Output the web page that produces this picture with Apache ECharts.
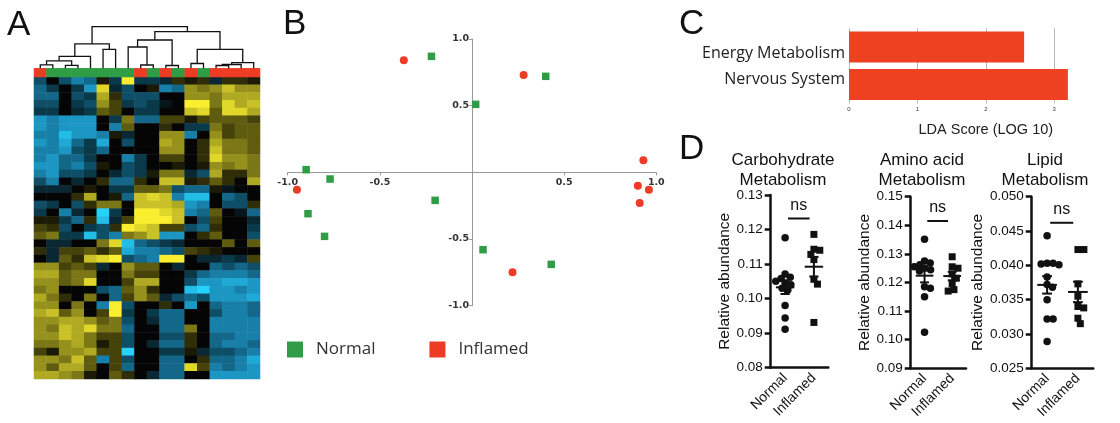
<!DOCTYPE html>
<html>
<head>
<meta charset="utf-8" />
<script src="https://cdn.jsdelivr.net/npm/echarts@6/dist/echarts.min.js"></script>
<style>
  html, body { margin: 0; padding: 0; background: #fff; }
  #main { width: 1120px; height: 423px; }
</style>
</head>
<body>
<div id="main"></div>
<script>
// ---- A: heatmap (rows top to bottom, 18 samples left to right) ----
const heatRows = [
  [-0.4,0,-0.4,-0.6,-0.5,0.1,-0.3,1,-0.3,-0.3,-0.2,0.2,0.1,0.2,-0.2,0.2,0.2,0.1],
  [-0.5,-0.3,0,-0.3,-0.7,0.9,-0.2,-0.4,0,0.1,-0.6,-0.5,0.6,0.5,0.6,0.8,0.6,0.6],
  [-0.5,-0.5,0,-0.4,-0.3,0.7,0.2,-0.4,-0.4,-0.4,0,0,0.6,0.6,0.5,0.7,0.7,0.7],
  [-0.4,-0.4,0,-0.3,-0.4,0.6,0.3,-0.3,-0.4,-0.3,-0.1,0,1,1,0.5,0.9,0.7,0.8],
  [-0.3,-0.3,0,-0.2,-0.3,0.4,0.3,0,-0.3,-0.3,0,0,0.8,0.9,0.4,0.9,0.9,0.7],
  [-0.7,-0.6,-0.7,-0.7,-0.7,0,-0.3,0.5,-0.5,-0.5,0.3,0.3,0.1,0.3,0.4,0.4,0.4,0.3],
  [-0.7,-0.6,-0.7,-0.7,-0.7,0,-0.6,0.4,0,0,0.2,0,-0.3,-0.3,0.5,0.3,0.4,0.4],
  [-0.6,-0.6,-0.9,-0.7,-0.7,-0.6,0.1,-0.2,0,0,0.6,0.6,-0.6,0,0.6,0.3,0.4,0.4],
  [-0.7,-0.6,-0.8,-0.5,-0.3,-0.8,0,-0.4,0,0,0.7,0.6,0,0.2,0.7,0.5,0.5,0.4],
  [-0.6,-0.6,-0.7,-0.4,-0.3,-0.5,0,0,0,0,0.6,0.6,0,0.2,0.8,0.5,0.5,0.4],
  [-0.6,-0.7,-0.5,-0.5,-0.3,0,0,-0.6,-0.3,0,0.3,0.3,0,0.2,0.9,0.6,0.6,0.5],
  [-0.7,-0.7,-0.5,-0.6,-0.4,0.1,0,-0.4,-0.3,0,0,0.1,0,0.1,0.6,0.5,0.6,0.5],
  [-0.6,-0.7,-0.4,-0.4,-0.3,0,-0.2,-0.4,-0.3,0.1,0.5,0.5,-0.2,-0.4,0.7,0.2,0.2,0.5],
  [-0.4,-0.6,0,-0.2,0,0.2,-0.5,-0.5,0.2,0,0.8,0.8,0.1,0.2,0.4,0.2,0,0.7],
  [-0.2,-0.2,-0.2,0,0.1,0,-0.3,-0.3,0.4,0.4,0.5,-0.4,-0.5,-0.5,0.1,-0.1,0,0],
  [0,0,0,0.2,0.7,0,0.1,-0.5,0.8,0.9,0.8,-0.6,-0.9,-0.9,0,-0.5,-0.4,0],
  [-0.4,-0.3,0,-0.4,0.2,0.5,0.5,0,0.8,0.8,0.8,0.7,-0.7,-0.6,0,-0.4,-0.4,0.2],
  [-0.3,0,-0.6,-0.2,0,-1,-0.3,0,1,1,0.9,0.8,-0.6,-0.5,0.4,0,-0.1,-0.5],
  [0.1,0.1,-0.3,-0.5,0.2,-0.9,-0.2,0.3,1,1,1,0.8,0,-0.4,0.3,0,0,-0.2],
  [0.3,0.2,-0.4,0,-0.3,-0.4,0.2,1,0.9,0.8,0.3,0.3,-0.4,-0.5,0.2,0,0,-0.3],
  [0.4,0.5,-0.3,-0.3,-0.9,-0.4,-0.6,0.5,0.6,0.8,-0.7,-0.7,0,0.2,0.4,0,0,-0.4],
  [0,-0.2,-0.2,0,0,0.5,0.9,-0.9,-0.5,-0.4,-0.3,-0.2,0,0,0,0.4,0,0.4],
  [0.2,-0.2,0.3,0.3,0.4,0.2,0.4,-0.8,-0.6,-0.6,-0.5,-0.4,0.3,0.2,0.1,0,0,0],
  [0,-0.2,0.4,0.2,0.8,0.9,1,-0.4,-0.5,-0.6,1,1,0,-0.2,-0.2,-0.3,-0.2,0.3],
  [0.6,0.6,0.3,0.4,0.3,-0.2,0,0.6,0.4,0.4,0,-0.2,0,0,-0.5,-0.4,-0.5,-0.4],
  [0.7,0.7,0.4,0.5,0.5,0,0,0.5,0.3,0.3,0,0,-0.3,-0.5,-0.6,-0.6,-0.6,-0.5],
  [0.6,0.6,0.4,0.5,0.9,0,0,0.3,0.7,0.7,0,0,-0.4,-0.7,-0.7,-0.8,-0.8,-0.7],
  [0.5,0.6,0,0,0,-0.4,-0.5,0.4,0.6,0.2,0,0,-0.9,-1,-0.7,-0.7,-0.6,-0.7],
  [0.7,0.5,0.2,0,0.5,0,-0.5,0.3,0.6,0.4,-0.2,-0.4,-0.5,-0.4,-0.7,-0.7,-0.7,-0.8],
  [0.6,0.6,0,0.5,0,-0.6,1,-0.4,0,0,0.2,0,-0.7,0,-0.5,-0.6,-0.6,-0.5],
  [0.7,0.8,0.4,0.6,0,0.3,1,-0.3,0,-0.3,-0.5,-0.5,0,0,-0.4,-0.6,-0.6,-0.5],
  [0.6,0.6,0.7,0.7,0.6,0.4,0.5,-0.4,0,-0.2,-0.5,-0.5,0,0,-0.6,-0.6,-0.6,-0.6],
  [0.6,0.5,0.8,0.7,0.9,0.5,0.5,-0.5,0,0,-0.5,-0.5,0.5,0,-0.6,-0.6,-0.6,-0.6],
  [0.6,0.6,0.8,0.7,0.5,0.3,0.3,-0.4,0,0,-0.4,-0.4,0.2,0,-0.5,-0.5,-0.6,-0.6],
  [0.5,0.5,0.6,0.7,0.5,0.1,0.3,-0.4,0,-0.2,-0.5,-0.5,0.2,0,-0.5,-0.6,-0.6,-0.5],
  [0.3,0.1,0.6,0.6,0.7,0.3,0.3,-1,0,0,-0.3,-0.3,0.1,-0.2,-0.4,-0.4,-0.5,-0.6],
  [0.6,0.6,0.5,0.8,0.4,-0.6,0.3,-0.4,0,0,-0.5,-0.5,0,0.2,-0.5,-0.5,-0.6,-0.8],
  [0.6,0.4,0.7,0.7,0.4,0,0.3,-0.5,0,0,-0.5,-0.5,0.9,0.3,-0.6,-0.5,-0.6,-0.7],
  [0.7,0.7,0.6,0.5,0.1,0,0.4,0.2,0,-0.2,-0.5,-0.5,0,0,-0.7,-0.7,-0.7,-0.7]
];
// I = inflamed, N = normal
const sampleGroups = ['I','N','N','N','N','N','N','N','I','N','I','N','I','N','I','I','I','I'];
// dendrogram merges: [left node, right node, height]; leaves 0..17, new nodes from 18
const dendroMerges = [
  [0,1,3.5],[2,3,3],[18,19,7.5],[20,4,12],[5,6,19],[21,22,24.5],
  [8,9,3.3],[7,24,21.3],[10,11,2.8],[25,26,28.3],
  [12,13,4.8],[14,15,2.8],[29,16,3.8],[30,17,5.6],[28,31,19],
  [27,32,36.6],[23,33,41.6]
];

// ---- B: PCA ----
const pcaNormal = [[-0.22,0.87],[0.40,0.72],[0.02,0.51],[-0.90,0.02],[-0.77,-0.05],
  [-0.20,-0.21],[-0.89,-0.31],[-0.80,-0.48],[0.06,-0.58],[0.43,-0.69]];
const pcaInflamed = [[-0.37,0.84],[0.28,0.73],[0.93,0.09],[0.90,-0.10],[0.96,-0.13],
  [0.91,-0.23],[-0.95,-0.13],[0.22,-0.75]];

// ---- C: LDA ----
const ldaLabels = ['Energy Metabolism', 'Nervous System'];
const ldaScores = [2.56, 3.2];

// ---- D: relative abundance ----
const dotCats = ['Normal', 'Inflamed'];
const dotTitles = ['Carbohydrate\nMetabolism', 'Amino acid\nMetabolism', 'Lipid\nMetabolism'];
const carbNormal = [0.1176,0.1071,0.1062,0.1058,0.1050,0.1045,0.1040,0.1030,0.1025,0.0980,0.0944,0.0911];
const carbInflamed = [0.1186,0.1143,0.1140,0.1128,0.1113,0.1056,0.1042,0.0931];
const aminoNormal = [0.1351,0.1275,0.1268,0.1262,0.1255,0.1250,0.1245,0.1240,0.1185,0.1180,0.1150,0.1026];
const aminoInflamed = [0.1290,0.1255,0.1250,0.1230,0.1215,0.1195,0.1175,0.1170];
const lipidNormal = [0.0443,0.0403,0.0403,0.0402,0.0401,0.0383,0.0372,0.0368,0.0350,0.0322,0.0322,0.0289];
const lipidInflamed = [0.0423,0.0423,0.0373,0.0355,0.0340,0.0338,0.0323,0.0315];
const dotYMin = [0.08, 0.09, 0.025];
const dotYMax = [0.13, 0.15, 0.05];
const dotYStep = [0.01, 0.01, 0.005];
const dotDecimals = [2, 2, 3];
const nsLevel = [0.1232, 0.1415, 0.0462];

const RED = '#ee3b24', GREEN = '#2f9d46', INK = '#111';
const SANS = '"Liberation Sans", Arial, sans-serif';

// heatmap cells
const heatData = [];
heatRows.forEach((row, r) => row.forEach((v, c) => heatData.push([c, r, v])));
const groupData = sampleGroups.map((g, c) => [c, 0, g === 'I' ? 1 : 0]);

// dendrogram links from merges
const nodeX = sampleGroups.map((g, i) => i + 0.5);
const nodeH = sampleGroups.map(() => 0);
const dendroData = dendroMerges.map(([a, b, h]) => {
  nodeX.push((nodeX[a] + nodeX[b]) / 2);
  nodeH.push(h);
  return [nodeX[a], nodeH[a], nodeX[b], nodeH[b], h];
});

// dot plot geometry
const dotGrids = [
  { left: 770.7, top: 195, width: 57.6, height: 172.7 },
  { left: 910.7, top: 196.7, width: 55.3, height: 171.6 },
  { left: 1031.7, top: 196.7, width: 61.6, height: 171.6 }
];
const titleX = [783, 922, 1045];
const groups = [[carbNormal, carbInflamed], [aminoNormal, aminoInflamed], [lipidNormal, lipidInflamed]];

// simple beeswarm: dots may overlap a little, like the original
function swarm(vals, cat, ppv, ppu) {
  const d = 6, placed = [], out = new Array(vals.length);
  const order = vals.map((v, i) => i).sort((a, b) => vals[b] - vals[a]);
  order.forEach(i => {
    const y = vals[i] * ppv;
    const cands = [0];
    placed.forEach(p => {
      const dy = Math.abs(y - p.y);
      if (dy < d) {
        const dx = Math.sqrt(d * d - dy * dy);
        cands.push(p.x + dx, p.x - dx);
      }
    });
    cands.sort((a, b) => Math.abs(a) - Math.abs(b));
    const x = cands.find(c => placed.every(p => (c - p.x) ** 2 + (y - p.y) ** 2 >= d * d - 0.01));
    placed.push({ x, y });
    out[i] = [cat + x / ppu, vals[i]];
  });
  return out;
}

function meanSem(vals) {
  const n = vals.length;
  const m = vals.reduce((s, v) => s + v, 0) / n;
  const sd = Math.sqrt(vals.reduce((s, v) => s + (v - m) ** 2, 0) / (n - 1));
  return [m, sd / Math.sqrt(n)];
}

function seg(a, b, w) {
  return { type: 'line', shape: { x1: a[0], y1: a[1], x2: b[0], y2: b[1] },
    style: { stroke: INK, lineWidth: w } };
}

function meanSemItem(params, api) {
  const c = api.value(0), m = api.value(1), s = api.value(2);
  const p = (x, y) => api.coord([x, y]);
  return { type: 'group', children: [
    seg(p(c - 0.32, m), p(c + 0.32, m), 2),
    seg(p(c, m - s), p(c, m + s), 2),
    seg(p(c - 0.16, m - s), p(c + 0.16, m - s), 2),
    seg(p(c - 0.16, m + s), p(c + 0.16, m + s), 2)
  ] };
}

function nsItem(params, api) {
  const a = api.coord([api.value(0), api.value(2)]);
  const b = api.coord([api.value(1), api.value(2)]);
  return { type: 'group', children: [
    seg(a, b, 2),
    { type: 'text', style: { text: 'ns', x: (a[0] + b[0]) / 2, y: a[1] - 5,
      align: 'center', verticalAlign: 'bottom', font: '16px ' + SANS, fill: INK } }
  ] };
}

function dendroItem(params, api) {
  const l = api.coord([api.value(0), api.value(1)]);
  const lt = api.coord([api.value(0), api.value(4)]);
  const rt = api.coord([api.value(2), api.value(4)]);
  const r = api.coord([api.value(2), api.value(3)]);
  return { type: 'polyline', shape: { points: [l, lt, rt, r] },
    style: { stroke: INK, lineWidth: 1.3, fill: null } };
}

const pcaBox = { left: 287.7, top: 39, width: 368.6, height: 266.7 };
const grid = [
  { left: 34, top: 77, width: 226, height: 302 },
  { left: 34, top: 68.3, width: 226, height: 8.7 },
  { left: 34, top: 26.7, width: 226, height: 41.6 },
  pcaBox,
  { left: 849, top: 28.3, width: 273.6, height: 75 }
].concat(dotGrids).map(g => Object.assign({ outerBoundsMode: 'none', containLabel: false }, g));

const hidden = { show: false };
const pcaLabel = {
  fontSize: 9.5, fontWeight: 'bold', color: '#333', fontFamily: '"DejaVu Sans", sans-serif',
  formatter: v => (Math.abs(v) < 1e-9 ? '' : v.toFixed(1))
};
const xAxis = [
  { type: 'category', gridIndex: 0, data: sampleGroups.map((g, i) => i), ...hidden },
  { type: 'category', gridIndex: 1, data: sampleGroups.map((g, i) => i), ...hidden },
  { type: 'value', gridIndex: 2, min: 0, max: 18, ...hidden },
  {
    type: 'value', gridIndex: 3, min: -1, max: 1, interval: 0.5,
    position: 'bottom', offset: -pcaBox.height / 2,
    axisLine: { onZero: false, lineStyle: { color: '#999', width: 1 } },
    axisTick: { length: 3, lineStyle: { color: '#999' } },
    splitLine: { show: false },
    axisLabel: Object.assign({ margin: 5 }, pcaLabel)
  },
  {
    type: 'value', gridIndex: 4, min: 0, max: 4, interval: 1,
    name: 'LDA Score (LOG 10)', nameLocation: 'middle', nameGap: 19,
    nameTextStyle: { fontSize: 14.5, color: '#222', fontFamily: SANS },
    axisLine: { lineStyle: { color: INK, width: 1.5 } },
    axisTick: { length: 3, lineStyle: { color: INK } },
    axisLabel: { fontSize: 6, margin: 3, color: '#333', fontFamily: SANS },
    splitLine: { show: true, lineStyle: { color: '#b8b8b8', width: 1 } }
  }
];
const yAxis = [
  { type: 'category', gridIndex: 0, inverse: true, data: heatRows.map((r, i) => i), ...hidden },
  { type: 'category', gridIndex: 1, data: ['g'], ...hidden },
  { type: 'value', gridIndex: 2, min: 0, max: 41.6, ...hidden },
  {
    type: 'value', gridIndex: 3, min: -1, max: 1, interval: 0.5,
    position: 'left', offset: -pcaBox.width / 2,
    axisLine: { show: true, onZero: false, lineStyle: { color: '#999', width: 1 } },
    axisTick: { show: true, length: 3, lineStyle: { color: '#999' } },
    splitLine: { show: false },
    axisLabel: Object.assign({ margin: 3 }, pcaLabel)
  },
  {
    type: 'category', gridIndex: 4, inverse: true, data: ldaLabels,
    axisLine: { show: false }, axisTick: { show: false },
    axisLabel: {
      margin: 4,
      formatter: (v, i) => (i === 0 ? '{a|' + v + '}' : '{b|' + v + '}'),
      rich: {
        a: { fontSize: 16, color: '#222', fontFamily: '"Open Sans", sans-serif', padding: [12, 0, 0, 0] },
        b: { fontSize: 16, color: '#222', fontFamily: '"Open Sans", sans-serif', padding: [0, 0, 10, 0] }
      }
    }
  }
];

const series = [
  { type: 'heatmap', xAxisIndex: 0, yAxisIndex: 0, data: heatData, itemStyle: { borderWidth: 0 },
    emphasis: { disabled: true } },
  { type: 'heatmap', xAxisIndex: 1, yAxisIndex: 1, data: groupData, itemStyle: { borderWidth: 0 },
    emphasis: { disabled: true } },
  { type: 'custom', xAxisIndex: 2, yAxisIndex: 2, data: dendroData, renderItem: dendroItem, silent: true },
  { name: 'Normal', type: 'scatter', xAxisIndex: 3, yAxisIndex: 3, data: pcaNormal,
    symbol: 'rect', symbolSize: 7.5, itemStyle: { color: GREEN, opacity: 1 } },
  { name: 'Inflamed', type: 'scatter', xAxisIndex: 3, yAxisIndex: 3, data: pcaInflamed,
    symbol: 'circle', symbolSize: 8, itemStyle: { color: RED, opacity: 1 } },
  { type: 'bar', xAxisIndex: 4, yAxisIndex: 4, data: ldaScores, barWidth: 31,
    itemStyle: { color: '#ee4122' } }
];

const graphic = [];
[['A', 7, 25], ['B', 283, 24], ['C', 679, 24], ['D', 679, 149]].forEach(([t, x, y]) => {
  graphic.push({ type: 'text', style: { text: t, x, y, verticalAlign: 'middle',
    font: '35px ' + SANS, fill: INK } });
});

dotGrids.forEach((g, i) => {
  const gi = 5 + i;
  const cx = xAxis.length;
  xAxis.push({
    type: 'category', gridIndex: gi, data: dotCats,
    axisLine: { onZero: false, lineStyle: { color: INK, width: 2.5 } },
    axisTick: { alignWithLabel: true, length: 6, lineStyle: { color: INK, width: 2.5 } },
    axisLabel: { rotate: 45, margin: 8, fontSize: 14, color: INK, fontFamily: SANS }
  });
  xAxis.push({ type: 'value', gridIndex: gi, position: 'top', min: -0.5, max: 1.5, show: false });
  const cy = yAxis.length;
  yAxis.push({
    type: 'value', gridIndex: gi, min: dotYMin[i], max: dotYMax[i], interval: dotYStep[i],
    name: 'Relative abundance', nameLocation: 'middle', nameGap: 38,
    nameTextStyle: { fontSize: 15.5, color: INK, fontFamily: SANS },
    axisLine: { show: true, onZero: false, lineStyle: { color: INK, width: 2.5 } },
    axisTick: { show: true, length: 6, lineStyle: { color: INK, width: 2.5 } },
    splitLine: { show: false },
    axisLabel: { margin: 8, fontSize: 13.5, color: INK, fontFamily: SANS,
      formatter: v => v.toFixed(dotDecimals[i]) }
  });
  const ppv = g.height / (dotYMax[i] - dotYMin[i]);
  const ppu = g.width / 2;
  const stats = [];
  groups[i].forEach((vals, c) => {
    series.push({
      name: dotCats[c] + ' ' + i, type: 'scatter', xAxisIndex: cx + 1, yAxisIndex: cy,
      data: swarm(vals, c, ppv, ppu),
      symbol: c === 0 ? 'circle' : 'rect', symbolSize: c === 0 ? 7.5 : 7,
      itemStyle: { color: INK, opacity: 1 }
    });
    stats.push([c].concat(meanSem(vals)));
  });
  series.push({ type: 'custom', xAxisIndex: cx + 1, yAxisIndex: cy, data: stats,
    renderItem: meanSemItem, silent: true, z: 5 });
  series.push({ type: 'custom', xAxisIndex: cx + 1, yAxisIndex: cy, data: [[0.1, 0.85, nsLevel[i]]],
    renderItem: nsItem, silent: true });
  graphic.push({ type: 'text', style: { text: dotTitles[i], x: titleX[i], y: 170,
    align: 'center', verticalAlign: 'middle', lineHeight: 20, font: '17px ' + SANS, fill: INK } });
});

const chart = echarts.init(document.getElementById('main'));
chart.setOption({
  animation: false,
  backgroundColor: '#fff',
  grid,
  xAxis,
  yAxis,
  visualMap: [
    { type: 'continuous', show: false, seriesIndex: 0, dimension: 2, min: -1, max: 1,
      inRange: { color: ['#25d2fa', '#1b8fbd', '#0b3f52', '#050505', '#4d4a0a', '#a8a322', '#faee2e'] } },
    { type: 'piecewise', show: false, seriesIndex: 1, dimension: 2,
      pieces: [{ value: 0, color: GREEN }, { value: 1, color: RED }] }
  ],
  legend: {
    data: ['Normal', 'Inflamed'], left: 287, top: 341, padding: 0,
    itemWidth: 16, itemHeight: 16, itemGap: 54, icon: 'rect', selectedMode: false,
    itemStyle: { opacity: 1 },
    textStyle: { fontSize: 17, color: '#333', fontFamily: '"Open Sans", sans-serif', padding: [0, 0, 0, 8] }
  },
  graphic,
  series
});
</script>
</body>
</html>
